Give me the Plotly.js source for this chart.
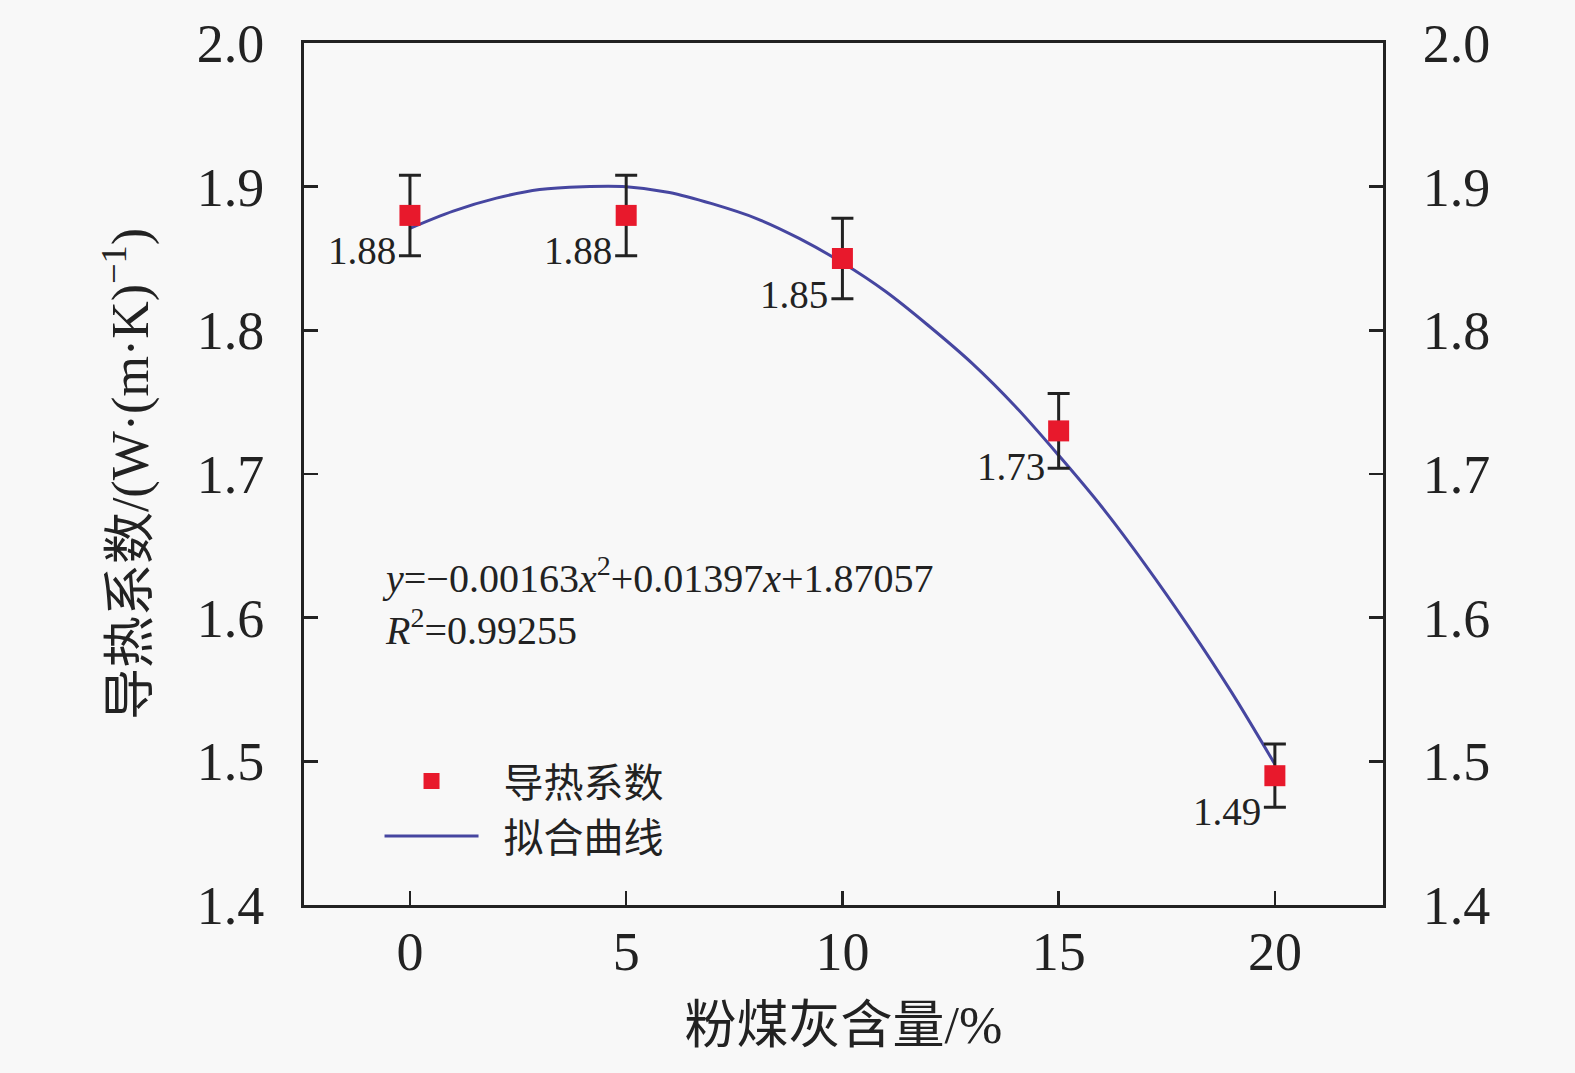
<!DOCTYPE html>
<html>
<head>
<meta charset="utf-8">
<script src="https://cdn.plot.ly/plotly-3.0.1.min.js"></script>
<style>
  body { margin: 0; background: #f8f8f8; }
  #chart { width: 1575px; height: 1073px; }
</style>
</head>
<body>
<div id="chart"></div>
<script>
// measured points (fly ash content %, conductivity)
const ashContent = [0, 5, 10, 15, 20]
const conductivity = [1.88, 1.88, 1.85, 1.73, 1.49]
const errorSize = [0.028, 0.028, 0.028, 0.026, 0.022]
const pointLabels = ['1.88', '1.88', '1.85', '1.73', '1.49']

// fitted curve
const fitX = [0, 1, 2, 3, 4, 5, 6, 7, 8, 9, 10, 11, 12, 13, 14, 15, 16, 17, 18, 19, 20]
const fitY = [1.871, 1.883, 1.892, 1.898, 1.900, 1.900, 1.896, 1.888, 1.878, 1.864, 1.847,
  1.827, 1.803, 1.777, 1.747, 1.713, 1.677, 1.637, 1.594, 1.548, 1.498]

const yTicks = [1.4, 1.5, 1.6, 1.7, 1.8, 1.9, 2.0]
const xTicks = [0, 5, 10, 15, 20]

const serif = 'Liberation Serif, Times New Roman, serif'
const cjk = 'Liberation Serif, Noto Sans CJK SC, serif'
const ink = '#222'

var data = [{
  x: ashContent,
  y: conductivity,
  type: 'scatter',
  mode: 'markers',
  name: '\u00a0\u00a0导热系数',
  marker: { symbol: 'square', size: 21, color: '#e8192c' },
  error_y: { type: 'data', array: errorSize, visible: true, color: ink, thickness: 3, width: 11 }
}, {
  x: fitX,
  y: fitY,
  type: 'scatter',
  mode: 'lines',
  name: '\u00a0\u00a0拟合曲线',
  line: { color: '#4646a0', width: 3, shape: 'spline' },
  hoverinfo: 'skip'
}, {
  // carries the right-hand axis
  x: ashContent,
  y: conductivity,
  yaxis: 'y2',
  type: 'scatter',
  mode: 'markers',
  marker: { opacity: 0 },
  showlegend: false,
  hoverinfo: 'skip'
}]

// draw the curve under the points, keep points first in legend
data[0].legendrank = 1
data[1].legendrank = 2
data = [data[1], data[0], data[2]]

const labelNotes = ashContent.map((x, i) => ({
  x: x,
  y: conductivity[i],
  xref: 'x',
  yref: 'y',
  text: pointLabels[i],
  showarrow: false,
  xanchor: 'right',
  yanchor: 'top',
  xshift: -12,
  yshift: -12,
  font: { family: serif, size: 39, color: ink }
}))

const axisBase = {
  showline: true,
  linecolor: ink,
  linewidth: 3,
  ticks: 'inside',
  ticklen: 14,
  tickwidth: 2.5,
  tickcolor: ink,
  showgrid: false,
  zeroline: false,
  tickfont: { family: serif, size: 54, color: ink }
}

var layout = {
  width: 1575,
  height: 1073,
  paper_bgcolor: '#f8f8f8',
  plot_bgcolor: '#f8f8f8',
  margin: { l: 304, r: 192, t: 43, b: 168 },
  showlegend: true,
  legend: {
    x: 0.07,
    y: 0.112,
    xanchor: 'left',
    yanchor: 'middle',
    bgcolor: 'rgba(0,0,0,0)',
    font: { family: cjk, size: 40, color: ink },
    itemwidth: 94,
    tracegroupgap: 0
  },
  xaxis: Object.assign({}, axisBase, {
    range: [-2.45, 22.5],
    tickvals: xTicks,
    mirror: true,
    ticklabelstandoff: -3,
    title: { text: '粉煤灰含量/%', font: { family: cjk, size: 52, color: ink }, standoff: 26 }
  }),
  yaxis: Object.assign({}, axisBase, {
    range: [1.4, 2.0],
    tickvals: yTicks,
    tickformat: '.1f',
    ticklabelstandoff: 26,
    title: {
      text: '导热系数/(W·(m·K)<sup>−1</sup>)',
      font: { family: cjk, size: 52, color: ink },
      standoff: 32
    }
  }),
  yaxis2: Object.assign({}, axisBase, {
    range: [1.4, 2.0],
    tickvals: yTicks,
    tickformat: '.1f',
    overlaying: 'y',
    side: 'right',
    ticklabelstandoff: 26
  }),
  annotations: labelNotes.concat([{
    xref: 'paper',
    yref: 'paper',
    x: 0.07,
    y: 0.352,
    xanchor: 'left',
    yanchor: 'middle',
    align: 'left',
    showarrow: false,
    text: '<i>y</i>=−0.00163<i>x</i><sup>2</sup>+0.01397<i>x</i>+1.87057<br><i>R</i><sup>2</sup>=0.99255',
    font: { family: serif, size: 40, color: ink }
  }])
}

Plotly.newPlot('chart', data, layout, { staticPlot: true })
</script>
</body>
</html>
